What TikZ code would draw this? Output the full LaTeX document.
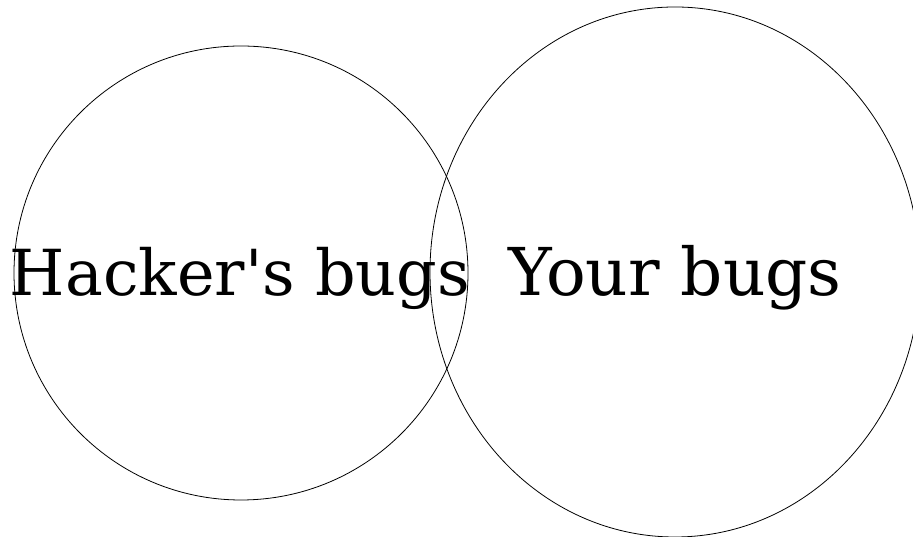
\documentclass[tikz,border=0pt]{standalone}
\usepackage{fontspec}
\setmainfont{DejaVu Serif}[Ligatures=TeXOff]
\usetikzlibrary{shapes.geometric}
\begin{document}
\begin{tikzpicture}[x=1pt,y=1pt,
  ring/.style={draw=black,line width=0.8pt,inner sep=0pt},
  label/.style={inner sep=0pt,anchor=base}]
\useasboundingbox (0,0) rectangle (913,537);
\node[ring,circle,minimum size=454pt] (hc) at (241,264) {};
\node[ring,ellipse,minimum width=490pt,minimum height=530pt] (yc) at (675,265) {};
\node[label,font=\fontsize{63.5}{68}\selectfont] (ht) at (240,241) {Hacker's bugs};
\node[label,font=\fontsize{66}{70}\selectfont] (yt) at (675,241) {Your bugs};
\end{tikzpicture}
\end{document}
